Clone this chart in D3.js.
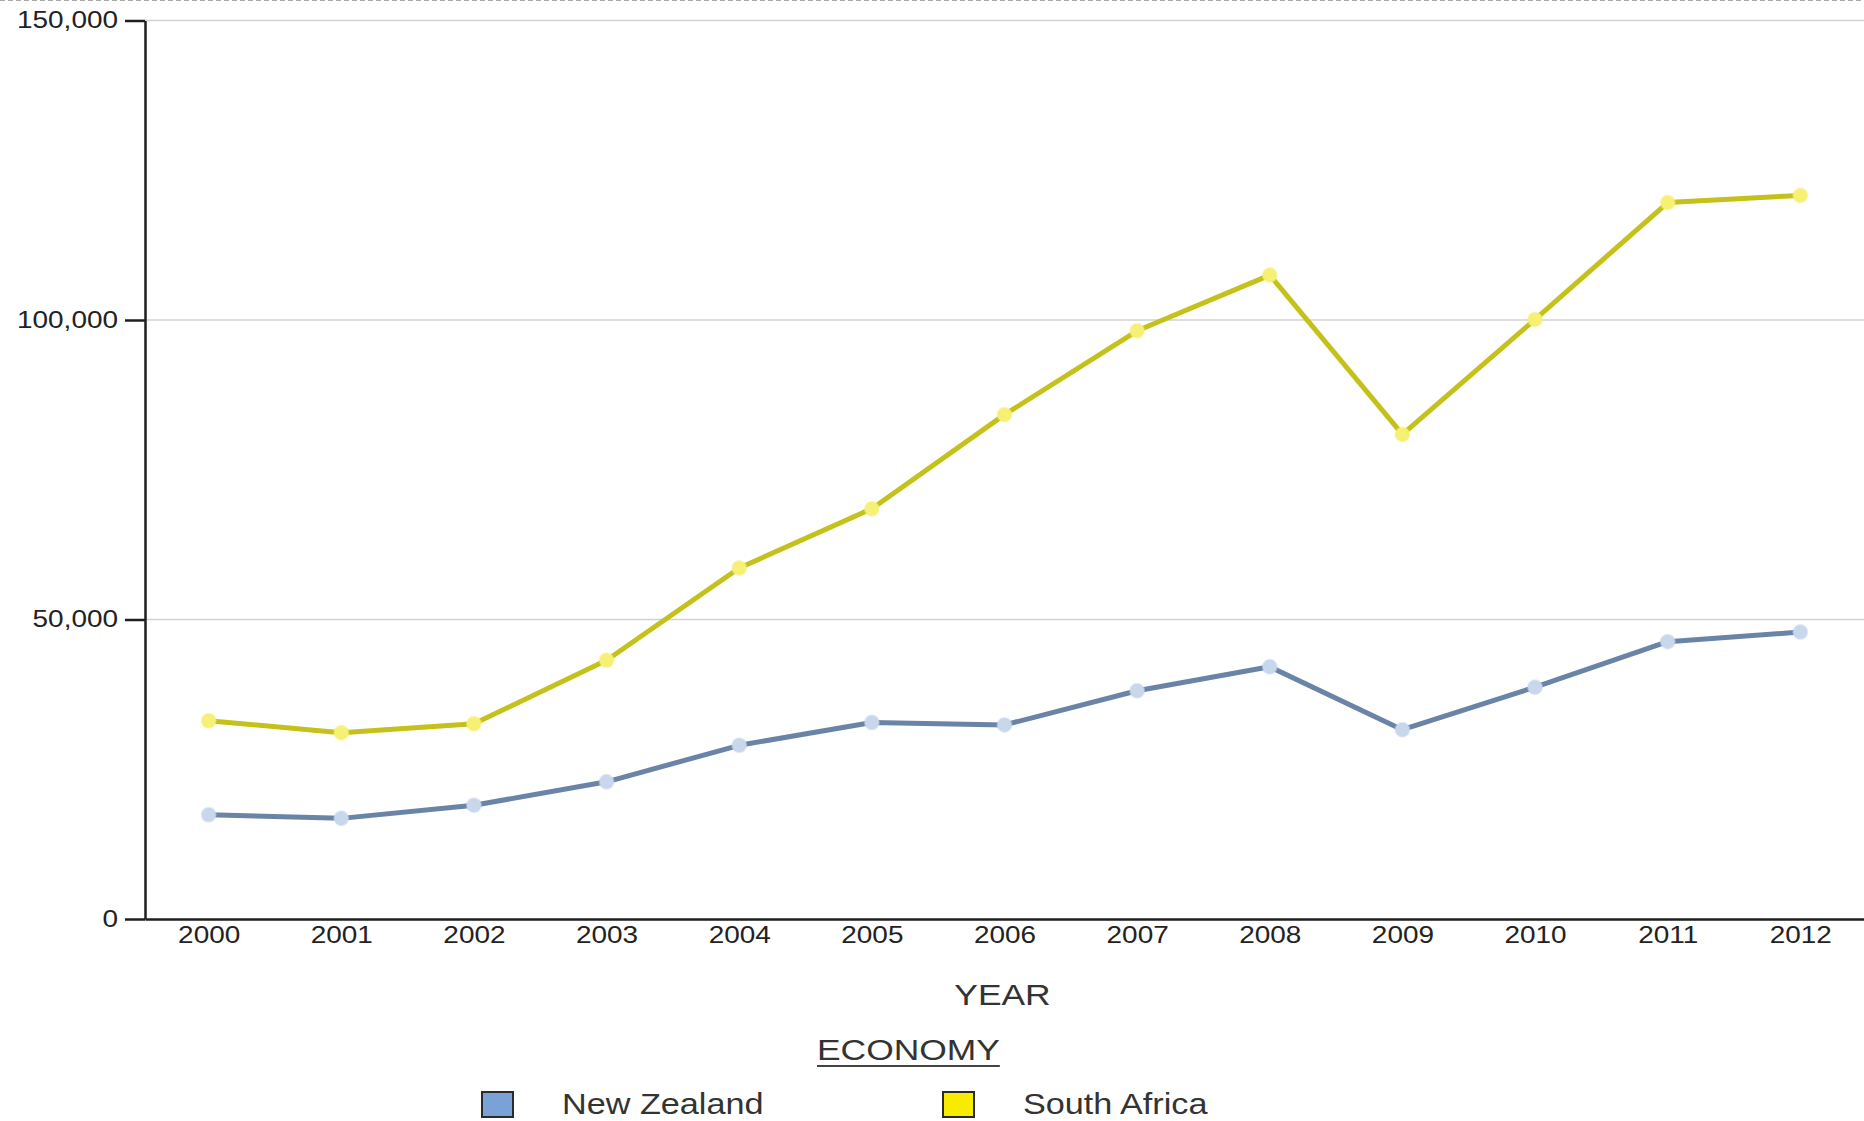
<!DOCTYPE html>
<html>
<head>
<meta charset="utf-8">
<script src="https://cdn.jsdelivr.net/npm/d3@7"></script>
<style>
  html, body { margin: 0; padding: 0; background: #fff; }
  svg { display: block; font-family: "Liberation Sans", Arial, sans-serif; }
</style>
</head>
<body>
<svg id="chart" width="1864" height="1121"></svg>
<script>
// data
const years = ['2000', '2001', '2002', '2003', '2004', '2005', '2006', '2007', '2008', '2009', '2010', '2011', '2012']
const newZealand = [17400, 16800, 19000, 22900, 29000, 32800, 32400, 38100, 42100, 31600, 38700, 46300, 47900]
const southAfrica = [33100, 31100, 32600, 43200, 58600, 68500, 84200, 98200, 107500, 80900, 100100, 119600, 120800]
const yTicks = [0, 50000, 100000, 150000]
const seriesNames = ['New Zealand', 'South Africa']

const series = [
  { name: seriesNames[0], values: newZealand, line: '#6a84a8', dot: '#c9d7ec', swatch: '#7aa2d6' },
  { name: seriesNames[1], values: southAfrica, line: '#c4c21a', dot: '#f6f175', swatch: '#f7ec00' },
]

const width = 1864
const height = 1121
const margin = { top: 20.5, right: 0, bottom: 202, left: 145 }
const stretch = 1.18 // text in the reference is drawn a bit wide

const svg = d3.select('#chart')

const x = d3.scalePoint()
  .domain(years)
  .range([margin.left, width - margin.right])
  .padding(0.48)

const y = d3.scaleLinear()
  .domain([0, 150000])
  .range([height - margin.bottom, margin.top])

// dashed frame line at the top
svg.append('line')
  .attr('x1', 0).attr('x2', width)
  .attr('y1', 0.5).attr('y2', 0.5)
  .attr('stroke', '#aaa')
  .attr('stroke-dasharray', '5,3')

// gridlines
svg.append('g')
  .selectAll('line')
  .data(yTicks.filter((d) => d > 0))
  .join('line')
  .attr('x1', margin.left)
  .attr('x2', width)
  .attr('y1', (d) => y(d))
  .attr('y2', (d) => y(d))
  .attr('stroke', '#d2d2d2')
  .attr('stroke-width', 1.5)

// lines and markers
const line = d3.line()
  .x((d, i) => x(years[i]))
  .y((d) => y(d))

const groups = svg.append('g')
  .selectAll('g')
  .data(series)
  .join('g')

groups.append('path')
  .attr('d', (d) => line(d.values))
  .attr('fill', 'none')
  .attr('stroke', (d) => d.line)
  .attr('stroke-width', 5)
  .attr('stroke-linejoin', 'round')

groups.selectAll('circle')
  .data((d) => d.values.map((v, i) => ({ v, i, s: d })))
  .join('circle')
  .attr('cx', (d) => x(years[d.i]))
  .attr('cy', (d) => y(d.v))
  .attr('r', 7)
  .attr('fill', (d) => d.s.dot)
  .attr('stroke', (d) => d.s.dot)
  .attr('stroke-opacity', 0.5)
  .attr('stroke-width', 2)

// axes
const yAxis = svg.append('g')
  .attr('transform', `translate(${margin.left},0)`)
  .call(d3.axisLeft(y).tickValues(yTicks).tickFormat(d3.format(',')).tickSize(20).tickSizeOuter(0))

const xAxis = svg.append('g')
  .attr('transform', `translate(0,${y(0)})`)
  .call(d3.axisBottom(x).tickSize(0).tickSizeOuter(0))

;[yAxis, xAxis].forEach((g) => {
  g.select('.domain').attr('stroke', '#1e1e1e').attr('stroke-width', 2.5)
  g.selectAll('.tick line').attr('stroke', '#1e1e1e').attr('stroke-width', 2.5)
  g.selectAll('text')
    .attr('fill', '#222')
    .attr('font-size', 23)
    .attr('font-family', '"Liberation Sans", Arial, sans-serif')
})

yAxis.selectAll('text')
  .attr('x', 0)
  .attr('transform', `translate(-27,0) scale(${stretch * 1.03},1)`)

xAxis.selectAll('text')
  .attr('y', 0)
  .attr('dy', null)
  .attr('transform', `translate(0,24) scale(${stretch * 1.03},1)`)

// axis title
svg.append('text')
  .attr('transform', `translate(${(margin.left + width) / 2 - 2},1005) scale(${stretch},1)`)
  .attr('text-anchor', 'middle')
  .attr('font-size', 30)
  .attr('fill', '#333')
  .text('YEAR')

// legend
const legendTitle = svg.append('text')
  .attr('transform', `translate(817,1060) scale(${stretch},1)`)
  .attr('font-size', 30)
  .attr('fill', '#333')
  .text('ECONOMY')

const titleWidth = legendTitle.node().getComputedTextLength() * stretch
svg.append('line')
  .attr('x1', 817).attr('x2', 817 + titleWidth)
  .attr('y1', 1066).attr('y2', 1066)
  .attr('stroke', '#444')
  .attr('stroke-width', 2)

const legend = svg.append('g')
  .selectAll('g')
  .data(series)
  .join('g')
  .attr('transform', (d, i) => `translate(${482 + i * 461},1092)`)

legend.append('rect')
  .attr('width', 31)
  .attr('height', 25)
  .attr('fill', (d) => d.swatch)
  .attr('stroke', '#2a2a2a')
  .attr('stroke-width', 2)

legend.append('text')
  .attr('transform', `translate(80,22) scale(${stretch},1)`)
  .attr('font-size', 29)
  .attr('fill', '#333')
  .text((d) => d.name)
</script>
</body>
</html>
